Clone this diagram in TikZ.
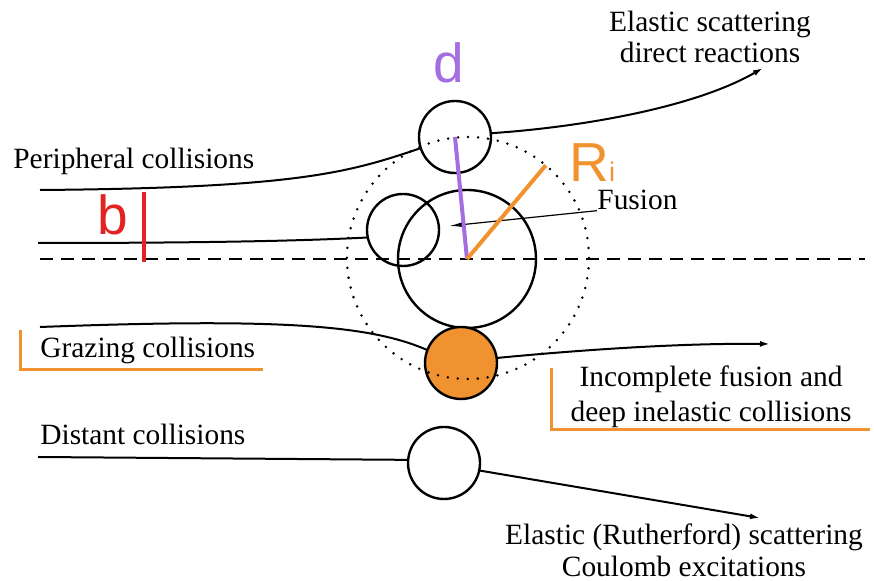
\documentclass[tikz,border=0pt]{standalone}
\usepackage{fontspec}
\setmainfont{Liberation Serif}
\newfontfamily\lblsans{Liberation Sans}
\usetikzlibrary{arrows.meta}
\definecolor{gorange}{RGB}{240,146,48}
\definecolor{dpurple}{RGB}{164,110,225}
\definecolor{bred}{RGB}{227,35,34}

\begin{document}
\begin{tikzpicture}[
  x=0.5pt,y=-0.5pt,
  txt/.style={inner sep=0pt,font=\fontsize{14.7}{15.5}\selectfont},
  big/.style={inner sep=0pt,font=\lblsans\fontsize{27.5}{30}\selectfont},
  nucl/.style={circle,draw,line width=1.2pt,inner sep=0pt,outer sep=0pt,minimum size=36pt},
  ring/.style={circle,draw,line width=1.4pt,dash pattern=on 0pt off 5pt,line cap=round,inner sep=0pt,outer sep=0pt,minimum size=121pt},
  traj/.style={line width=1pt},
  arrow/.style={traj,-{Latex[length=5pt,width=3pt]}},
  fusarrow/.style={line width=0.6pt,-{Latex[length=7pt,width=2.6pt]}},
  axis/.style={line width=1pt,dash pattern=on 6.5pt off 4pt},
  bracket/.style={gorange,line width=1.5pt},
  dline/.style={dpurple,line width=2pt},
  rline/.style={gorange,line width=2pt},
  bline/.style={bred,line width=1.6pt}
]
\useasboundingbox (0,0) rectangle (874,581);

% nuclei
\node[nucl,minimum size=69pt] (tgt) at (467,259) {};
\node[nucl] (elas) at (455,137) {};
\node[nucl] (fusp) at (403,230) {};
\node[nucl,fill=gorange] (graz) at (461,363) {};
\node[nucl] (dist) at (444,463) {};
\node[ring] (rng) at (468,258) {};

% beam axis
\coordinate (axl) at (40,259);
\coordinate (axr) at (865,259);
\draw[axis] (axl) -- (axr);

% labels (base = last line)
\node[txt,anchor=base,align=center] (elastxt) at (710,63) {Elastic scattering\\direct reactions};
\node[txt,anchor=base west] (periph) at (13,169) {Peripheral collisions};
\node[txt,anchor=base west] (fuslbl) at (597,210) {Fusion};
\node[txt,anchor=base west] (grazlbl) at (40,358) {Grazing collisions};
\node[txt,anchor=base,align=center,font=\fontsize{14.7}{17.5}\selectfont] (incfus) at (711,422) {Incomplete fusion and\\deep inelastic collisions};
\node[txt,anchor=base west] (distlbl) at (40,445) {Distant collisions};
\node[txt,anchor=base,align=center,font=\fontsize{14.7}{16}\selectfont] (ruth) at (684,577) {Elastic (Rutherford) scattering\\Coulomb excitations};

\node[big,text=dpurple,anchor=base west] (dlbl) at (433,83) {d};
\node[big,text=gorange,anchor=base west] (rlbl) at (569,182) {R\fontsize{13.5}{15}\selectfont i};
\node[big,text=bred,anchor=base west] (blbl) at (97,235) {b};

% trajectories
\coordinate (p0) at (40,190);
\coordinate (p1) at (763,68);
\coordinate (f0) at (38,243);
\coordinate (g0) at (40,327);
\coordinate (g1) at (770,344);
\coordinate (d0) at (38,457);
\coordinate (d1) at (760,518);
\draw[traj] (p0) .. controls (300,188) and (350,172) .. (elas.198);
\draw[arrow] (elas.6) .. controls (570,128) and (690,110) .. (p1);
\draw[traj] (f0) .. controls (200,243) and (300,241) .. (fusp.192);
\draw[traj] (g0) .. controls (280,318) and (370,325) .. (graz.159);
\draw[arrow] (graz.8) .. controls (580,350) and (680,343) .. (g1);
\draw[traj] (d0) -- (dist.175);
\draw[arrow] (dist.-12) -- (d1);

% fusion pointer
\coordinate (fustip) at (449,226);
\draw[fusarrow] (fuslbl.south west) -- (fustip);

% radii and impact parameter
\draw[dline] (tgt.center) -- (elas.center);
\draw[rline] (tgt.center) -- (rng.50);
\coordinate (b0) at (144,192);
\coordinate (b1) at (144,262);
\draw[bline] (b0) -- (b1);

% brackets
\draw[bracket] (20,330) |- (263,370);
\draw[bracket] (551,368) |- (870,430);
\end{tikzpicture}
\end{document}
